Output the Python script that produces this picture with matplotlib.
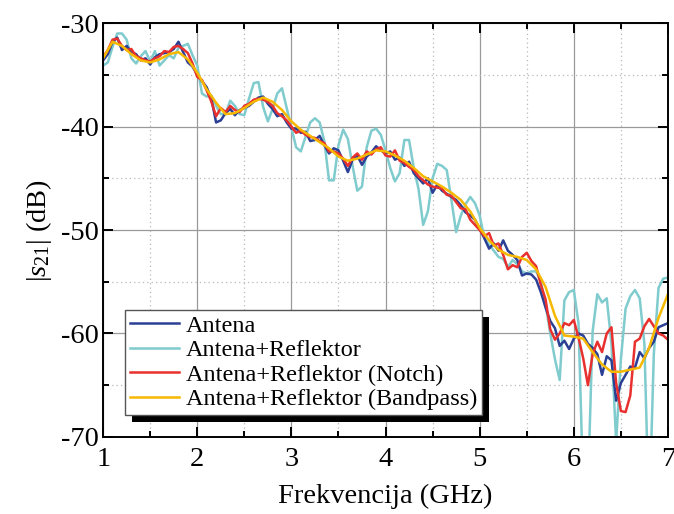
import numpy as np
import matplotlib
matplotlib.use('Agg')
import matplotlib.pyplot as plt
from matplotlib.patches import Rectangle
from matplotlib.transforms import IdentityTransform

plt.rcParams['font.family'] = ['Liberation Serif', 'DejaVu Serif']
plt.rcParams['mathtext.fontset'] = 'custom'
plt.rcParams['mathtext.rm'] = 'Liberation Serif'
plt.rcParams['mathtext.it'] = 'Liberation Serif:italic'
plt.rcParams['axes.unicode_minus'] = False

# frequency grids (GHz)
freq = np.linspace(1.0, 7.0, 121)       # 0.05 GHz step
freq_smooth = np.linspace(1.0, 7.0, 61)  # 0.1 GHz step

labels = ['Antena', 'Antena+Reflektor', 'Antena+Reflektor (Notch)',
          'Antena+Reflektor (Bandpass)']

antena = [
    -33.6, -33.0, -31.8, -31.4, -32.6, -32.2, -32.8, -33.0, -33.6, -33.4,
    -34.0, -33.3, -33.0, -32.9, -32.8, -32.5, -31.8, -32.8, -33.8, -34.2,
    -35.0, -35.6, -36.2, -37.3, -39.6, -39.4, -38.7, -38.3, -38.9, -38.4,
    -38.2, -38.0, -37.6, -37.2, -37.1, -37.8, -38.3, -39.0, -38.8, -39.6,
    -40.2, -40.2, -40.6, -40.5, -41.4, -41.3, -40.9, -41.8, -42.6, -42.1,
    -42.3, -43.3, -44.4, -43.2, -42.8, -43.7, -42.9, -42.5, -41.9, -42.3,
    -42.6, -42.4, -43.2, -43.0, -43.8, -43.4, -44.5, -45.0, -45.5, -45.0,
    -46.4, -45.6, -46.2, -46.5, -46.8, -47.1, -47.6, -48.3, -48.6, -49.0,
    -49.9, -50.8, -51.8, -51.3, -52.0, -51.0, -52.0, -52.4, -52.9, -54.4,
    -54.2, -54.3, -54.8, -56.0, -57.5, -58.8, -59.5, -61.2, -60.7, -61.5,
    -60.5, -60.0, -60.2, -61.0, -61.4, -62.0, -64.0, -62.2, -62.6, -66.5,
    -64.8, -64.0, -63.2, -63.3, -61.8, -62.4, -61.4, -60.8, -59.4, -59.2,
    -59.0]

reflektor = [
    -34.1, -33.8, -32.3, -31.0, -31.0, -31.6, -33.4, -33.9, -33.2, -32.7,
    -33.7, -32.7, -34.1, -33.6, -33.1, -33.4, -32.4, -32.2, -32.0, -33.1,
    -34.1, -36.8, -37.1, -37.0, -38.0, -38.8, -38.8, -37.5, -38.0, -38.8,
    -38.9, -37.3, -35.8, -35.7, -38.1, -39.5, -38.3, -36.8, -36.3, -38.2,
    -40.1, -42.0, -42.4, -41.0, -39.6, -39.2, -39.6, -41.4, -45.2, -45.2,
    -41.8, -40.3, -41.2, -43.8, -46.2, -45.8, -42.0, -40.4, -40.2, -40.8,
    -42.3, -44.0, -45.3, -44.5, -41.3, -41.3, -44.0, -46.0, -49.5, -48.2,
    -45.0, -43.6, -43.8, -44.2, -47.1, -50.2, -48.6, -47.5, -46.8, -47.4,
    -48.6, -50.8, -51.4, -52.0, -52.6, -52.8, -53.6, -52.9, -53.3, -54.0,
    -54.2, -54.0, -54.0, -55.0, -57.2, -60.0, -62.5, -64.5, -56.8, -56.0,
    -55.8, -59.0, -75.0, -75.0, -59.8, -56.2, -57.0, -56.6, -61.0, -70.5,
    -62.5, -57.6, -56.4, -55.8, -56.6, -61.0, -78.0, -62.0, -55.6, -54.7,
    -54.6]

notch = [
    -33.3, -32.6, -31.6, -31.5, -32.2, -32.6, -32.5, -33.2, -33.4, -33.6,
    -33.7, -33.4, -33.2, -32.7, -32.8, -32.3, -32.2, -32.5, -32.9, -33.9,
    -35.2, -35.5, -36.5, -37.6, -39.0, -38.2, -38.6, -38.0, -38.4, -38.6,
    -38.0, -37.8, -37.4, -37.3, -37.4, -37.6, -38.0, -38.7, -39.0, -39.4,
    -40.0, -40.6, -40.4, -40.8, -41.0, -41.1, -41.4, -41.6, -42.4, -42.4,
    -42.6, -43.1, -43.8, -43.0, -42.6, -43.2, -42.4, -42.7, -42.2, -42.0,
    -42.8, -42.9, -42.3, -43.3, -43.5, -43.9, -44.2, -44.8, -45.2, -45.6,
    -45.8, -45.9, -46.0, -46.6, -46.7, -47.3, -47.9, -48.0, -49.0, -49.5,
    -50.0, -50.6, -50.3, -51.5, -51.3, -52.4, -53.8, -53.4, -53.6, -52.6,
    -52.2, -53.0, -53.5, -55.3, -56.7, -59.6, -60.6, -60.0, -59.0, -59.2,
    -58.7, -60.4, -62.4, -65.0, -62.0, -60.8, -61.8, -60.0, -59.4, -64.8,
    -67.5, -67.6, -66.0, -60.8, -60.5, -59.3, -58.6, -59.3, -60.0, -60.2,
    -60.6]

bandpass = [
    -33.4, -31.8, -32.2, -33.0, -33.6, -33.8, -33.5, -33.0, -32.8, -33.5,
    -34.8, -36.4, -37.7, -38.8, -38.7, -38.2, -37.6, -37.2, -37.6, -38.4,
    -39.5, -40.3, -40.9, -41.5, -42.1, -42.9, -43.3, -43.1, -42.7, -42.3,
    -42.4, -42.8, -43.3, -44.0, -44.8, -45.3, -45.8, -46.4, -47.1, -48.2,
    -49.8, -51.0, -51.9, -52.4, -52.6, -52.9, -53.8, -55.5, -58.3, -60.2,
    -60.3, -60.5, -61.8, -63.0, -63.7, -63.7, -63.5, -63.3, -61.4, -58.5,
    -56.2]

colors = ['#2b3f94', '#7fcbcd', '#e8302e', '#f7b800']

fig = plt.figure(figsize=(6.74, 5.14), dpi=100)
ax = fig.add_axes([0.153, 0.150, 0.838, 0.805])

l2, = ax.plot(freq, reflektor, color=colors[1], lw=1.8, label=labels[1])
l1, = ax.plot(freq, antena, color=colors[0], lw=1.8, label=labels[0])
l3, = ax.plot(freq, notch, color=colors[2], lw=1.8, label=labels[2])
l4, = ax.plot(freq_smooth, bandpass, color=colors[3], lw=1.8, label=labels[3])

ax.set_xlim(1, 7)
ax.set_ylim(-70, -30)
ax.set_xticks(np.arange(1, 8, 1))
ax.set_xticks(np.arange(1.5, 7, 1), minor=True)
ax.set_yticks(np.arange(-70, -29, 10))
ax.set_yticks(np.arange(-65, -30, 10), minor=True)
ax.grid(which='major', color='#9a9a9a', lw=0.9, ls='-')
ax.grid(which='minor', color='#b8b8b8', lw=0.9, ls=(0, (1, 2.5)))
ax.tick_params(which='both', direction='in', top=True, right=True,
               labelsize=20.5, width=1.4)
ax.tick_params(axis='x', pad=7)
ax.tick_params(axis='y', pad=3)
ax.tick_params(which='major', length=7)
ax.tick_params(which='minor', length=4)
for s in ax.spines.values():
    s.set_linewidth(1.4)

ax.set_xlabel('Frekvencija (GHz)', fontsize=20.5, labelpad=9)
ax.set_ylabel(r'$|s_{21}|$ (dB)', fontsize=20.5, labelpad=5)

leg = ax.legend(handles=[l1, l2, l3, l4], loc='lower left',
                bbox_to_anchor=(0.039, 0.053), borderaxespad=0,
                fontsize=17.5, fancybox=False, framealpha=1,
                edgecolor='#555555', handlelength=2.0, handletextpad=0.3,
                labelspacing=0.1, borderpad=0.2)
leg.get_frame().set_linewidth(1.0)
leg.set_zorder(6)

# legend drop shadow
fig.canvas.draw()
bb = leg.get_window_extent()
shadow = Rectangle((bb.x0 + 7, bb.y0 - 7), bb.width, bb.height,
                   transform=IdentityTransform(), facecolor='black',
                   edgecolor='none', zorder=5.5, clip_on=False)
ax.add_artist(shadow)

fig.savefig('out.png', dpi=100)
